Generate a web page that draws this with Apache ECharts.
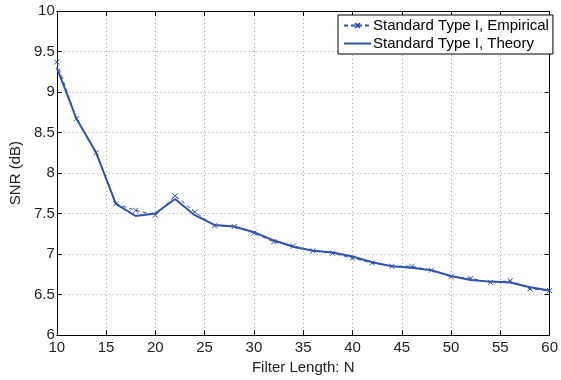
<!DOCTYPE html>
<html>
<head>
<meta charset="utf-8">
<script src="https://cdn.jsdelivr.net/npm/echarts@6/dist/echarts.min.js"></script>
<style>
html,body{margin:0;padding:0;background:#fff;}
#chart{width:561px;height:380px;}
</style>
</head>
<body>
<div id="chart"></div>
<script>
const filterLength = [10,12,14,16,18,20,22,24,26,28,30,32,34,36,38,40,42,44,46,48,50,52,54,56,58,60];
const empirical = [9.37,8.67,8.25,7.62,7.54,7.48,7.72,7.52,7.35,7.34,7.26,7.15,7.10,7.04,7.01,6.95,6.89,6.85,6.85,6.80,6.72,6.70,6.65,6.67,6.57,6.55];
const theory    = [9.30,8.67,8.25,7.62,7.47,7.50,7.68,7.48,7.36,7.34,7.27,7.17,7.09,7.04,7.02,6.97,6.90,6.85,6.83,6.80,6.73,6.68,6.66,6.65,6.59,6.55];
const seriesNames = ['Standard Type I, Empirical', 'Standard Type I, Theory'];
const xTitle = 'Filter Length: N';
const yTitle = 'SNR (dB)';

const blue = '#3352ad';
const font = "'Liberation Sans', Arial, Helvetica, sans-serif";
const chart = echarts.init(document.getElementById('chart'), null, {renderer: 'canvas'});
const pair = (xs, ys) => xs.map((x, i) => [x, ys[i]]);

const gridDots = {show: true, lineStyle: {color: '#a8a8a8', type: [1, 3], width: 1}};
const axLine = {show: true, onZero: false, lineStyle: {color: '#000', width: 1}};
const tick = {show: true, inside: true, length: 5, lineStyle: {color: '#000'}};
const lab = {fontFamily: font, fontSize: 15, color: '#222'};

chart.setOption({
  animation: false,
  backgroundColor: '#fff',
  textStyle: {fontFamily: font},
  grid: {left: 53, right: 7, top: 11, bottom: 41, containLabel: false},
  legend: {
    orient: 'vertical',
    left: 338, top: 15,
    padding: [2, 4, 2, 5],
    itemGap: 1,
    itemWidth: 27, itemHeight: 6,
    borderColor: '#000', borderWidth: 1, borderRadius: 0,
    backgroundColor: '#fff',
    textStyle: {fontFamily: font, fontSize: 15, color: '#000', padding: [0, 0, 0, -3], lineHeight: 17},
    data: [
      {name: seriesNames[0]},
      {name: seriesNames[1], itemStyle: {opacity: 0}}
    ]
  },
  xAxis: [
    {type: 'value', min: 10, max: 60, interval: 5, position: 'bottom',
     name: xTitle, nameLocation: 'middle', nameGap: 19,
     nameTextStyle: lab,
     axisLine: axLine, axisTick: tick,
     axisLabel: Object.assign({margin: 5}, lab),
     splitLine: gridDots},
    {type: 'value', min: 10, max: 60, interval: 5, position: 'top',
     axisLine: axLine, axisTick: tick, axisLabel: {show: false}, splitLine: {show: false}}
  ],
  yAxis: [
    {type: 'value', min: 6, max: 10, interval: 0.5, position: 'left',
     name: yTitle, nameLocation: 'middle', nameGap: 26, nameRotate: 90,
     nameTextStyle: lab,
     axisLine: axLine, axisTick: tick,
     axisLabel: Object.assign({margin: 2}, lab),
     splitLine: gridDots},
    {type: 'value', min: 6, max: 10, interval: 0.5, position: 'right',
     axisLine: axLine, axisTick: tick, axisLabel: {show: false}, splitLine: {show: false}}
  ],
  series: [
    {name: seriesNames[0], type: 'line', data: pair(filterLength, empirical),
     symbol: 'path://M0,0L10,10M10,0L0,10', symbolSize: 5, showSymbol: true,
     itemStyle: {color: blue, borderColor: blue, borderWidth: 1},
     lineStyle: {color: blue, width: 1, type: [4, 3]}, z: 3},
    {name: seriesNames[1], type: 'line', data: pair(filterLength, theory),
     symbol: 'none', showSymbol: false,
     itemStyle: {color: blue},
     lineStyle: {color: blue, width: 2}, z: 2}
  ]
});
</script>
</body>
</html>
